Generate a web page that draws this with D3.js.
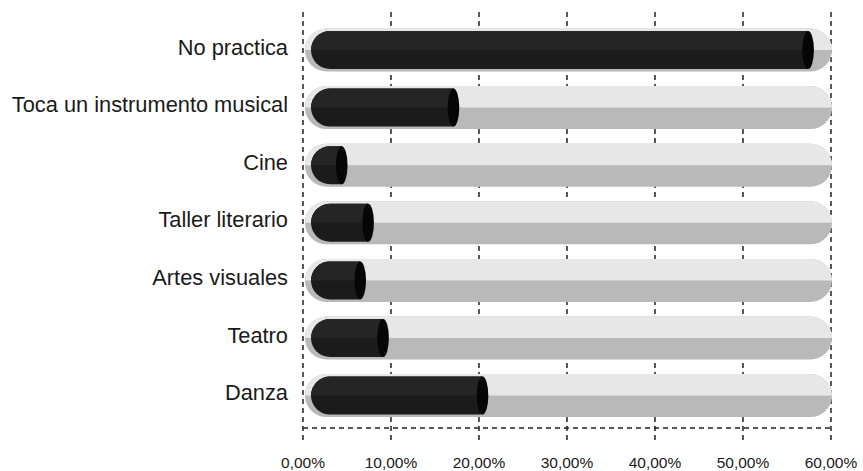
<!DOCTYPE html>
<html>
<head>
<meta charset="utf-8">
<script src="https://cdn.jsdelivr.net/npm/d3@7"></script>
<style>
  html, body { margin: 0; padding: 0; background: #fff; }
  svg { display: block; }
</style>
</head>
<body>
<svg id="chart" width="863" height="471"></svg>
<script>
// Actividades artísticas practicadas (porcentaje de respuestas)
const categories = [
  "No practica",
  "Toca un instrumento musical",
  "Cine",
  "Taller literario",
  "Artes visuales",
  "Teatro",
  "Danza"
];
const values = [57.4, 17.1, 4.4, 7.4, 6.5, 9.1, 20.4];
const tickValues = [0, 10, 20, 30, 40, 50, 60];
const tickLabels = ["0,00%", "10,00%", "20,00%", "30,00%", "40,00%", "50,00%", "60,00%"];

const svg = d3.select("#chart");
const font = "'Liberation Sans', Arial, Helvetica, sans-serif";

const x = d3.scaleLinear().domain([0, 60]).range([303, 831]);
const y = d3.scaleBand().domain(categories).range([21.2, 424.4]).padding(0);
const step = y.bandwidth();
const trackH = 43;
const barH = 38;
const axisY = 428;

// vertical dashed gridlines
svg.append("g").selectAll("line")
  .data(tickValues)
  .join("line")
  .attr("x1", d => x(d)).attr("x2", d => x(d))
  .attr("y1", 12).attr("y2", 441)
  .attr("stroke", "#222")
  .attr("stroke-width", 1.5)
  .attr("stroke-dasharray", "5,4");

// bottom dashed axis line
svg.append("line")
  .attr("x1", x(0)).attr("x2", x(60))
  .attr("y1", axisY).attr("y2", axisY)
  .attr("stroke", "#222")
  .attr("stroke-width", 1.4)
  .attr("stroke-dasharray", "5,4");

// background tracks: full pill in the darker tone, top half lighter
const trackL = x(0) + 2, trackR = x(60) + 1;
const tr = trackH / 2;
function pill(cy) {
  const l = trackL + tr, r = trackR - tr;
  return `M${l},${cy - tr} H${r} A${tr},${tr} 0 0 1 ${r},${cy + tr} H${l} A${tr},${tr} 0 0 1 ${l},${cy - tr} Z`;
}
function pillTop(cy) {
  const l = trackL + tr, r = trackR - tr;
  return `M${trackL},${cy} A${tr},${tr} 0 0 1 ${l},${cy - tr} H${r} A${tr},${tr} 0 0 1 ${trackR},${cy} Z`;
}

const rows = svg.append("g").selectAll("g")
  .data(categories.map((c, i) => ({ c, v: values[i] })))
  .join("g");

rows.append("path")
  .attr("d", d => pill(y(d.c) + step / 2))
  .attr("fill", "#b9b9b9");
rows.append("path")
  .attr("d", d => pillTop(y(d.c) + step / 2))
  .attr("fill", "#e7e7e7");

// dark cylinder bars
const barL = x(0) + 8;
const br = barH / 2;
const capRx = 5.8;
function barFull(cy, xv) {
  const l = barL + br;
  const end = Math.max(xv, l);
  return `M${l},${cy - br} H${end} V${cy + br} H${l} A${br},${br} 0 0 1 ${l},${cy - br} Z`;
}
function barTop(cy, xv) {
  const l = barL + br;
  const end = Math.max(xv, l);
  return `M${barL},${cy} A${br},${br} 0 0 1 ${l},${cy - br} H${end} V${cy} Z`;
}
rows.append("path")
  .attr("d", d => barFull(y(d.c) + step / 2, x(d.v)))
  .attr("fill", "#1b1b1b");
rows.append("path")
  .attr("d", d => barTop(y(d.c) + step / 2, x(d.v)))
  .attr("fill", "#252525");
rows.append("ellipse")
  .attr("cx", d => x(d.v))
  .attr("cy", d => y(d.c) + step / 2)
  .attr("rx", capRx)
  .attr("ry", br)
  .attr("fill", "#060606");

// category labels
svg.append("g").selectAll("text")
  .data(categories)
  .join("text")
  .attr("x", 288)
  .attr("y", d => y(d) + step / 2 - 3)
  .attr("dy", "0.35em")
  .attr("text-anchor", "end")
  .attr("font-family", font)
  .attr("font-size", 21.8)
  .attr("fill", "#1a1a1a")
  .text(d => d);

// tick labels
svg.append("g").selectAll("text")
  .data(tickValues)
  .join("text")
  .attr("x", d => x(d))
  .attr("y", 468)
  .attr("text-anchor", "middle")
  .attr("font-family", font)
  .attr("font-size", 15.5)
  .attr("fill", "#1a1a1a")
  .text((d, i) => tickLabels[i]);
</script>
</body>
</html>
